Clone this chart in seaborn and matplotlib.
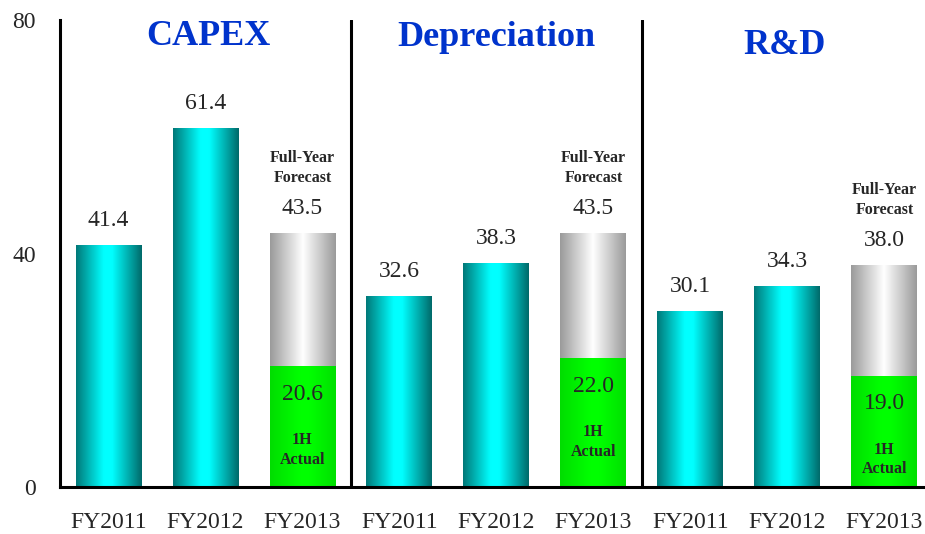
import numpy as np
import pandas as pd
import matplotlib
matplotlib.use('Agg')
import matplotlib.pyplot as plt
import seaborn as sns
from matplotlib.colors import LinearSegmentedColormap

# data
metrics = ['CAPEX', 'Depreciation', 'R&D']
years = ['FY2011', 'FY2012', 'FY2013']
capex = [41.4, 61.4, 43.5]
depreciation = [32.6, 38.3, 43.5]
rnd = [30.1, 34.3, 38.0]
actual_1h = [20.6, 22.0, 19.0]

rows = []
for m, vals in zip(metrics, [capex, depreciation, rnd]):
    for y, v in zip(years, vals):
        rows.append({'key': m + ' ' + y, 'metric': m, 'year': y, 'value': v})
df = pd.DataFrame(rows)
act = pd.DataFrame({'key': [m + ' FY2013' for m in metrics], 'value': actual_1h})
order = list(df['key'])

sns.set_style('white')
plt.rcParams['font.family'] = ['Liberation Serif', 'DejaVu Serif']

fig = plt.figure(figsize=(9.25, 5.34), dpi=100)
ax = fig.add_axes([0.0649, 0.088, 0.935, 0.8745])

sns.barplot(data=df, x='key', y='value', order=order, width=0.68,
            color='#00cccc', ax=ax, errorbar=None)
n_full = len(ax.patches)
sns.barplot(data=act, x='key', y='value', order=order, width=0.68,
            color='#00ff00', ax=ax, errorbar=None)

cyan = LinearSegmentedColormap.from_list('cy', [(0, '#007878'), (0.42, '#00ffff'),
                                                (0.55, '#00ffff'), (1, '#006a6a')])
gray = LinearSegmentedColormap.from_list('gr', [(0, '#9a9a9a'), (0.5, '#ffffff'), (1, '#9a9a9a')])
green = LinearSegmentedColormap.from_list('gn', [(0, '#00dd00'), (0.45, '#00ff00'),
                                                 (0.6, '#00ff00'), (1, '#00e000')])
grad = np.linspace(0, 1, 256).reshape(1, -1)

for i, p in enumerate(ax.patches):
    x, y0 = p.get_x(), p.get_y()
    w, h = p.get_width(), p.get_height()
    if i >= n_full:
        cmap, z = green, 3
    elif df['year'].iloc[i] == 'FY2013':
        cmap, z = gray, 2
    else:
        cmap, z = cyan, 2
    ax.imshow(grad, cmap=cmap, extent=[x, x + w, y0, y0 + h], aspect='auto', zorder=z)
    p.set_visible(False)

# labels above bars
for i, p in enumerate(ax.patches[:n_full]):
    cx = p.get_x() + p.get_width() / 2
    top = p.get_height()
    ax.annotate(f'{top:.1f}', (cx, top), xytext=(0, 18), textcoords='offset points',
                ha='center', va='center', fontsize=17, zorder=5)
    if df['year'].iloc[i] == 'FY2013':
        ax.annotate('Full-Year\nForecast', (cx, top), xytext=(0, 47), textcoords='offset points',
                    ha='center', va='center', fontsize=11.5, fontweight='bold',
                    linespacing=1.3, zorder=5)

for p in ax.patches[n_full:]:
    cx = p.get_x() + p.get_width() / 2
    top = p.get_height()
    ax.annotate(f'{top:.1f}', (cx, top), xytext=(0, -20), textcoords='offset points',
                ha='center', va='center', fontsize=17, zorder=5)
    ax.annotate('1H\nActual', (cx, top), xytext=(0, -60), textcoords='offset points',
                ha='center', va='center', fontsize=11.5, fontweight='bold',
                linespacing=1.3, zorder=5)

# group titles
for xc, yc, t in zip([1.03, 4.0, 6.97], [77.2, 77.0, 75.7], metrics):
    ax.text(xc, yc, t, ha='center', va='center', fontsize=26, fontweight='bold',
            color='#0033cc', zorder=5)

for xs in [2.5, 5.5]:
    ax.axvline(xs, color='black', lw=2.2, zorder=4)

ax.set_xlim(-0.5, 8.418)
ax.set_ylim(0, 80)
ax.set_yticks([0, 40, 80])
ax.set_xticks(range(len(order)))
ax.set_xticklabels(list(df['year']))
ax.set_xlabel('')
ax.set_ylabel('')
ax.tick_params(axis='y', direction='in', length=5, width=2.2, pad=17.5, labelsize=17)
ax.tick_params(axis='x', length=0, pad=18, labelsize=17)
sns.despine(ax=ax, top=True, right=True)
for s in ['left', 'bottom']:
    ax.spines[s].set_linewidth(2.2)
    ax.spines[s].set_color('black')
    ax.spines[s].set_zorder(6)

fig.savefig('out.png', dpi=100)
